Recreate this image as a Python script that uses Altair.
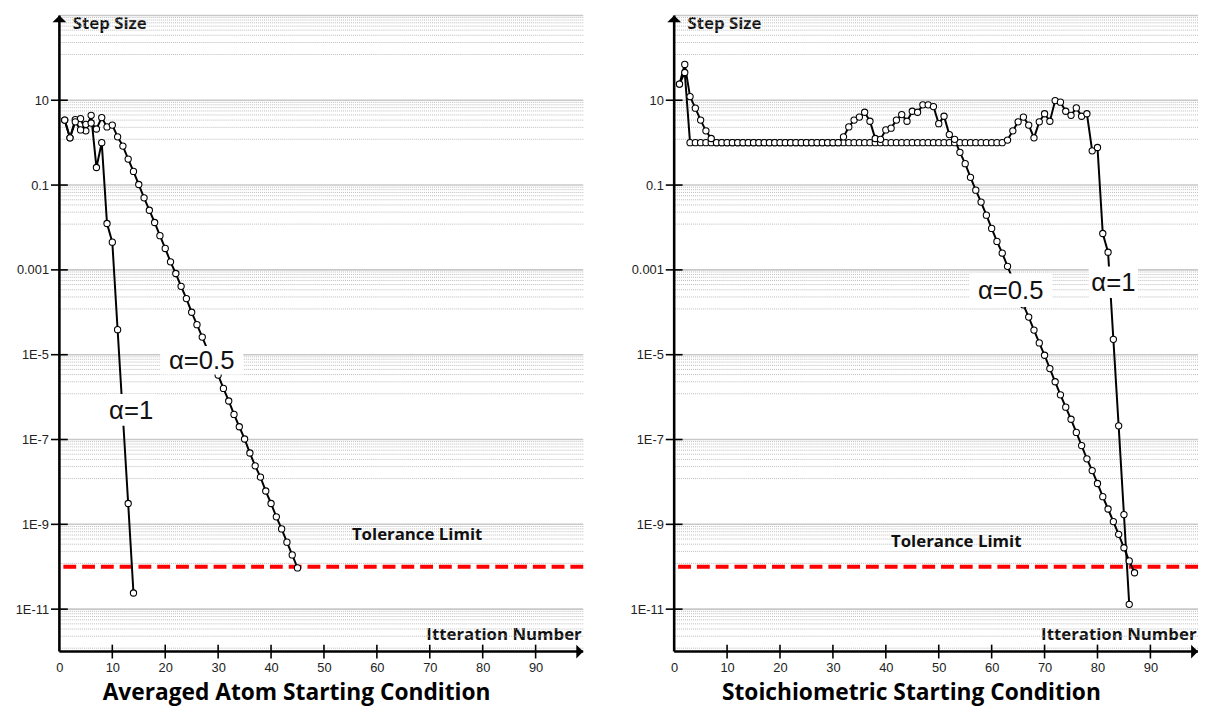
import math
import altair as alt
import pandas as pd

# ---------------- data ----------------
# Averaged Atom starting condition (left panel), step size per iteration (iterations start at 1)
LEFT_A1 = [3.4, 1.3, 3.5, 3.7, 1.9, 4.4, 0.26, 1.0, 0.0124, 0.0045,
           3.9e-5, 3.5e-7, 3.1e-9, 2.4e-11]
LEFT_A05 = [3.4, 1.3, 3.1, 2.0, 2.7, 2.9, 2.1, 3.9, 2.35, 2.6,
            1.37, 0.83, 0.41, 0.21, 0.103, 0.050, 0.0255, 0.0131, 0.0064, 0.0032,
            0.00155, 8.2e-4, 4.1e-4, 2.1e-4, 1.0e-4, 5.1e-5, 2.6e-5, 1.3e-5, 6.7e-6, 3.3e-6,
            1.6e-6, 8.1e-7, 3.9e-7, 2.0e-7, 1.03e-7, 4.8e-8, 2.4e-8, 1.3e-8, 6.1e-9, 3.1e-9,
            1.5e-9, 7.8e-10, 3.8e-10, 1.9e-10, 9.4e-11]

# Stoichiometric starting condition (right panel)
RIGHT_A1 = [24, 45,
            1.0, 1.0, 1.0, 1.0, 1.0, 1.0, 1.0, 1.0, 1.0, 1.0,
            1.0, 1.0, 1.0, 1.0, 1.0, 1.0, 1.0, 1.0, 1.0, 1.0,
            1.0, 1.0, 1.0, 1.0, 1.0, 1.0, 1.0, 1.0, 1.0, 1.0,
            1.0, 1.0, 1.0, 1.0, 1.0, 1.0, 1.0, 1.0, 1.0, 1.0,
            1.0, 1.0, 1.0, 1.0, 1.0, 1.0, 1.0, 1.0, 1.0, 1.0,
            1.0, 1.0, 1.0, 1.0, 1.0, 1.0, 1.0, 1.0, 1.0, 1.0,
            1.15, 1.9, 3.1, 4.0, 2.6, 1.3, 3.1, 4.8, 3.2, 9.8,
            9.0, 5.5, 4.4, 6.6, 4.2, 4.8, 0.64, 0.77, 0.0072, 0.0026,
            2.3e-5, 2.1e-7, 1.7e-9, 1.3e-11]
RIGHT_A05 = [24, 70, 12.2, 6.5, 3.4, 1.9, 1.25,
             1.0, 1.0, 1.0, 1.0, 1.0, 1.0, 1.0, 1.0, 1.0, 1.0, 1.0, 1.0,
             1.0, 1.0, 1.0, 1.0, 1.0, 1.0, 1.0, 1.0, 1.0, 1.0, 1.0, 1.0,
             1.37, 2.35, 3.4, 4.0, 5.2, 3.2, 1.25,
             1.2, 2.0, 2.2, 3.4, 4.6, 3.2, 5.5, 5.2, 7.8, 7.8, 7.1, 2.8, 4.2, 1.55, 1.2,
             0.59, 0.32, 0.152, 0.0757, 0.0397, 0.0195, 0.0095, 0.0047, 0.00248, 0.00121,
             6.0e-4, 3.0e-4, 1.5e-4, 7.7e-5, 3.8e-5, 1.9e-5, 9.7e-6, 4.7e-6, 2.3e-6, 1.13e-6,
             5.8e-7, 3.0e-7, 1.47e-7, 7.2e-8, 3.5e-8, 1.85e-8, 9.2e-9, 4.5e-9, 2.3e-9, 1.16e-9,
             5.8e-10, 2.8e-10, 1.37e-10, 7.2e-11]

SERIES_NAMES = ["α=1", "α=0.5"]
TOLERANCE = 1e-10
X_TICK_VALUES = [0, 10, 20, 30, 40, 50, 60, 70, 80, 90]
Y_TICK_VALUES = [10, 0.1, 0.001, 1e-5, 1e-7, 1e-9, 1e-11]
Y_TICK_LABELS = ["10", "0.1", "0.001", "1E-5", "1E-7", "1E-9", "1E-11"]
Y_GRID_TOP = 1000
TITLES = ["Averaged Atom Starting Condition", "Stoichiometric Starting Condition"]

# ---------------- layout / style ----------------
W, H = 530, 647
XMAX = 99.0
YMIN, YMAX = 1e-12, 1.2e3
BOLD_FONT = "Open Sans"
LABEL_FONT = "Liberation Sans"

XSCALE = alt.Scale(domain=[0, XMAX], nice=False, zero=False)
YSCALE = alt.Scale(type="log", domain=[YMIN, YMAX], nice=False)

label_expr = "".join(
    f"abs(log(datum.value)/LN10 - ({round(math.log10(v))})) < 0.01 ? '{lab}' : "
    for v, lab in zip(Y_TICK_VALUES, Y_TICK_LABELS)
) + "''"

XAXIS = alt.Axis(values=X_TICK_VALUES, grid=False, domain=False, ticks=False,
                 labelPadding=10, labelFont=LABEL_FONT, labelFontSize=13,
                 labelColor="#222222", labelFlush=False, labelOverlap=False,
                 title="Itteration Number", titleX=528, titleY=-17,
                 titleAlign="right", titleBaseline="middle", titleAngle=0,
                 titleFont=BOLD_FONT, titleFontSize=17, titleFontWeight="bold",
                 titleColor="#111111")
YAXIS = alt.Axis(values=Y_TICK_VALUES, labelExpr=label_expr, grid=False,
                 domain=False, ticks=False, labelPadding=11,
                 labelFont=LABEL_FONT, labelFontSize=13, labelColor="#222222",
                 labelFlush=False, labelOverlap=False,
                 title="Step Size", titleX=13, titleY=12, titleAlign="left",
                 titleBaseline="middle", titleAngle=0, titleFont=BOLD_FONT,
                 titleFontSize=17, titleFontWeight="bold", titleColor="#111111",
                 minExtent=52, maxExtent=52)


def xenc(field="it"):
    return alt.X(f"{field}:Q", scale=XSCALE, axis=XAXIS)


def yenc(field="v"):
    return alt.Y(f"{field}:Q", scale=YSCALE, axis=YAXIS)


def grid_values():
    majors = [Y_GRID_TOP] + Y_TICK_VALUES
    minors = []
    for hi in majors:
        lo = hi / 100.0
        for k in range(1, 9):
            val = lo + k * (hi - lo) / 9.0
            if YMIN < val < YMAX:
                minors.append(val)
    return majors, minors


def panel(a1, a05, labels, tol_pos, title):
    rows = []
    for name, vals in zip(SERIES_NAMES, [a1, a05]):
        for i, v in enumerate(vals, start=1):
            rows.append({"it": i, "v": v, "s": name})
    df = pd.DataFrame(rows)

    majors, minors = grid_values()
    minor_grid = alt.Chart(pd.DataFrame({"v": minors})).mark_rule(
        color="#bcbcbc", strokeWidth=1, strokeDash=[1, 1]).encode(y=yenc())
    major_grid = alt.Chart(pd.DataFrame({"v": majors})).mark_rule(
        color="#c8c8c8", strokeWidth=1.6).encode(y=yenc())

    tol = alt.Chart(pd.DataFrame({"v": [TOLERANCE]})).mark_rule(
        color="#ff0000", strokeWidth=4, strokeDash=[13, 6]).encode(y=yenc())

    lines = alt.Chart(df).mark_line(color="black", strokeWidth=2).encode(
        x=xenc(), y=yenc(), detail="s:N", order="it:Q")
    points = alt.Chart(df).mark_point(
        shape="circle", filled=True, fill="white", stroke="black",
        strokeWidth=1.1, size=40, opacity=1).encode(x=xenc(), y=yenc())

    layers = [minor_grid, major_grid, tol, lines, points]

    for lab in labels:
        ratio = lab["h"] / lab["w"]
        path = f"M-1,-{ratio:.3f}L1,-{ratio:.3f}L1,{ratio:.3f}L-1,{ratio:.3f}Z"
        ldf = pd.DataFrame({"it": [lab["it"]], "v": [lab["v"]], "t": [lab["text"]]})
        layers.append(alt.Chart(ldf).mark_point(
            shape=path, filled=True, fill="white", strokeWidth=0,
            size=lab["w"] ** 2, opacity=1).encode(x=xenc(), y=yenc()))
        layers.append(alt.Chart(ldf).mark_text(
            font=LABEL_FONT, fontSize=26, color="#111111", baseline="middle",
            align="center", dy=1).encode(x=xenc(), y=yenc(), text="t:N"))

    tdf = pd.DataFrame({"it": [tol_pos[0]], "v": [tol_pos[1]], "t": ["Tolerance Limit"]})
    layers.append(alt.Chart(tdf).mark_text(
        font=BOLD_FONT, fontSize=17, fontWeight="bold", color="#111111",
        baseline="middle", align="center").encode(x=xenc(), y=yenc(), text="t:N"))

    # axis lines with arrow heads
    vdf = pd.DataFrame({"it": [0], "v": [YMIN], "v2": [Y_GRID_TOP]})
    hdf = pd.DataFrame({"it": [0], "it2": [XMAX], "v": [YMIN]})
    layers.append(alt.Chart(vdf).mark_rule(color="black", strokeWidth=2.6).encode(
        x=xenc(), y=yenc(), y2="v2:Q"))
    layers.append(alt.Chart(hdf).mark_rule(color="black", strokeWidth=2.6).encode(
        x=xenc(), x2="it2:Q", y=yenc()))
    layers.append(alt.Chart(pd.DataFrame({"it": [0], "v": [Y_GRID_TOP]})).mark_point(
        shape="M0,0L2,2L-2,2Z", filled=True, color="black", size=49, opacity=1
    ).encode(x=xenc(), y=yenc()))
    layers.append(alt.Chart(pd.DataFrame({"it": [XMAX], "v": [YMIN]})).mark_point(
        shape="M0,0L-2,-2L-2,2Z", filled=True, color="black", size=49, opacity=1
    ).encode(x=xenc(), y=yenc()))

    # tick marks crossing the axes
    xt = pd.DataFrame({"it": [v for v in X_TICK_VALUES if v > 0],
                       "v": [YMIN] * (len(X_TICK_VALUES) - 1)})
    yt = pd.DataFrame({"it": [0] * len(Y_TICK_VALUES), "v": Y_TICK_VALUES})
    layers.append(alt.Chart(xt).mark_tick(orient="vertical", size=14, thickness=1.6,
                                          color="black", opacity=1).encode(x=xenc(), y=yenc()))
    layers.append(alt.Chart(yt).mark_tick(orient="horizontal", size=17, thickness=1.6,
                                          color="black", opacity=1).encode(x=xenc(), y=yenc()))

    return alt.layer(*layers).properties(
        width=W, height=H,
        title=alt.TitleParams(title, orient="bottom", anchor="middle", frame="bounds",
                              font=BOLD_FONT, fontSize=23, fontWeight="bold",
                              color="#000000", offset=8))


left = panel(LEFT_A1, LEFT_A05,
             [{"text": "α=1", "it": 13.55, "v": 5.0e-7, "w": 50, "h": 32},
              {"text": "α=0.5", "it": 26.9, "v": 7.4e-6, "w": 84, "h": 29}],
             (67.6, 5.5e-10), TITLES[0])
right = panel(RIGHT_A1, RIGHT_A05,
              [{"text": "α=0.5", "it": 63.6, "v": 3.3e-4, "w": 84, "h": 34},
               {"text": "α=1", "it": 83.0, "v": 5.1e-4, "w": 50, "h": 32}],
              (53.3, 3.8e-10), TITLES[1])

chart = alt.hconcat(left, right, spacing=38).properties(
    padding={"left": 0, "top": 0, "right": 0, "bottom": 0},
    background="white",
).configure_view(strokeWidth=0)

chart.save("out.html", embed_options={"renderer": "svg", "actions": False})
